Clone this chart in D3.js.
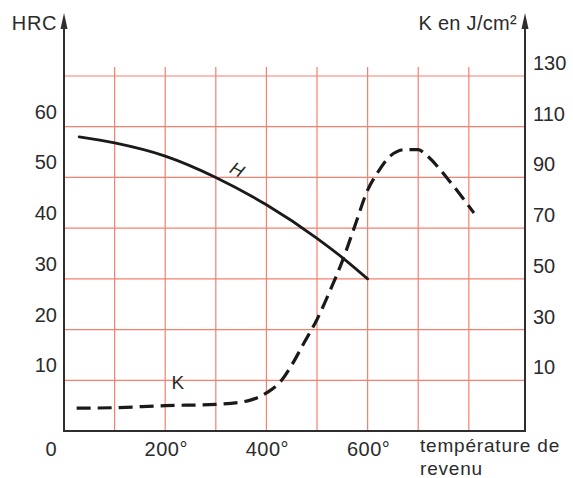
<!DOCTYPE html>
<html>
<head>
<meta charset="utf-8">
<script src="https://cdn.jsdelivr.net/npm/d3@7"></script>
<style>
  html, body { margin: 0; padding: 0; background: #fff; }
  svg { display: block; font-family: "Liberation Sans", Arial, Helvetica, sans-serif; }
</style>
</head>
<body>
<svg id="chart" width="573" height="478"></svg>
<script>
// ---- data ----
const hardTemp = [30, 100, 200, 300, 400, 500, 550, 600];
const hardHRC  = [58, 56.8, 54.2, 50, 44.6, 38, 34.2, 30];

const kTemp = [25, 100, 200, 300, 365, 400, 430, 450, 475, 500, 525, 550, 575, 600, 620, 645, 675, 700, 715, 760, 810];
const kJ    = [-1, -0.8, 0, 0.5, 2, 5, 10, 16, 25, 34, 45, 57, 71, 85, 92, 98.5, 101, 101, 99, 89, 76];

const hrcTicks = [10, 20, 30, 40, 50, 60];
const hrcGrid  = [10, 20, 30, 40, 50, 60, 70];
const kTicks   = [10, 30, 50, 70, 90, 110, 130];
const tempGrid = [100, 200, 300, 400, 500, 600, 700, 800];
const tempTicks = [0, 200, 400, 600];
const tempTickLabels = ["0", "200°", "400°", "600°"];

// ---- layout ----
const svg = d3.select("#chart");
const x = d3.scaleLinear().domain([0, 911]).range([64, 525]);
const yH = d3.scaleLinear().domain([0, 70]).range([431, 76]);
const yK = d3.scaleLinear().domain([-10, 130]).range([431, 76]);

const gridColor = "#f4806f";
const axisColor = "#2e2e2e";
const textColor = "#2b2b2b";

// grid
const grid = svg.append("g");
grid.selectAll("line.h").data(hrcGrid).join("line")
  .attr("x1", x(0)).attr("x2", x(911))
  .attr("y1", d => yH(d)).attr("y2", d => yH(d))
  .attr("stroke", gridColor).attr("stroke-width", 1.2);
grid.selectAll("line.v").data(tempGrid).join("line")
  .attr("x1", d => x(d)).attr("x2", d => x(d))
  .attr("y1", yH(0)).attr("y2", yH(70) - 9)
  .attr("stroke", gridColor).attr("stroke-width", 1.2);

// axes
const ax = svg.append("g").attr("stroke", axisColor).attr("stroke-width", 2).attr("fill", "none");
ax.append("line").attr("x1", x(0)).attr("x2", x(0)).attr("y1", yH(0) + 1).attr("y2", 26);
ax.append("line").attr("x1", x(911)).attr("x2", x(911)).attr("y1", yH(0) + 1).attr("y2", 26);
ax.append("line").attr("x1", x(0) - 1).attr("x2", x(911) + 1).attr("y1", yH(0)).attr("y2", yH(0));

// arrows
[x(0), x(911)].forEach(ax0 => {
  svg.append("path")
    .attr("d", `M${ax0},13 L${ax0 - 3.5},29 L${ax0 + 3.5},29 Z`)
    .attr("fill", axisColor);
});

// left tick labels
svg.append("g").selectAll("text").data(hrcTicks).join("text")
  .attr("x", 57).attr("y", d => yH(d) - 15)
  .attr("text-anchor", "end").attr("dominant-baseline", "central")
  .attr("font-size", 20).attr("fill", textColor)
  .text(d => d);

// right tick labels
svg.append("g").selectAll("text").data(kTicks).join("text")
  .attr("x", 533).attr("y", d => yK(d) - 13)
  .attr("text-anchor", "start").attr("dominant-baseline", "central")
  .attr("font-size", 20).attr("fill", textColor)
  .text(d => d);

// bottom tick labels
svg.append("g").selectAll("text").data(tempTicks).join("text")
  .attr("x", (d, i) => i === 0 ? x(d) - 7 : x(d) + 1)
  .attr("y", 456)
  .attr("text-anchor", (d, i) => i === 0 ? "end" : "middle")
  .attr("font-size", 20).attr("letter-spacing", 0.5).attr("fill", textColor)
  .text((d, i) => tempTickLabels[i]);

// axis titles
svg.append("text").attr("x", 57).attr("y", 30).attr("text-anchor", "end")
  .attr("font-size", 20).attr("letter-spacing", 0.6).attr("fill", textColor).text("HRC");
svg.append("text").attr("x", 517).attr("y", 30).attr("text-anchor", "end")
  .attr("font-size", 20).attr("letter-spacing", 0.3).attr("fill", textColor).text("K en J/cm²");
svg.append("text").attr("x", 420).attr("y", 452)
  .attr("font-size", 19).attr("letter-spacing", 0.8).attr("fill", textColor).text("température de");
svg.append("text").attr("x", 420).attr("y", 475)
  .attr("font-size", 19).attr("letter-spacing", 0.8).attr("fill", textColor).text("revenu");

// curves
const hLine = d3.line()
  .x((d, i) => x(hardTemp[i])).y(d => yH(d))
  .curve(d3.curveMonotoneX);
svg.append("path").datum(hardHRC)
  .attr("d", hLine)
  .attr("fill", "none").attr("stroke", "#1a1a1a").attr("stroke-width", 2.8)
  .attr("stroke-linecap", "round");

const kLine = d3.line()
  .x((d, i) => x(kTemp[i])).y(d => yK(d))
  .curve(d3.curveMonotoneX);
svg.append("path").datum(kJ)
  .attr("d", kLine)
  .attr("fill", "none").attr("stroke", "#1a1a1a").attr("stroke-width", 3.2)
  .attr("stroke-dasharray", "14,7");

// curve labels
svg.append("text")
  .attr("transform", `translate(${x(342)},${yH(51.5)}) rotate(28)`)
  .attr("text-anchor", "middle").attr("dominant-baseline", "central")
  .attr("font-size", 18).attr("font-style", "italic").attr("fill", textColor).text("H");
svg.append("text")
  .attr("x", x(225)).attr("y", yK(3) - 9)
  .attr("text-anchor", "middle")
  .attr("font-size", 19).attr("fill", textColor).text("K");
</script>
</body>
</html>
